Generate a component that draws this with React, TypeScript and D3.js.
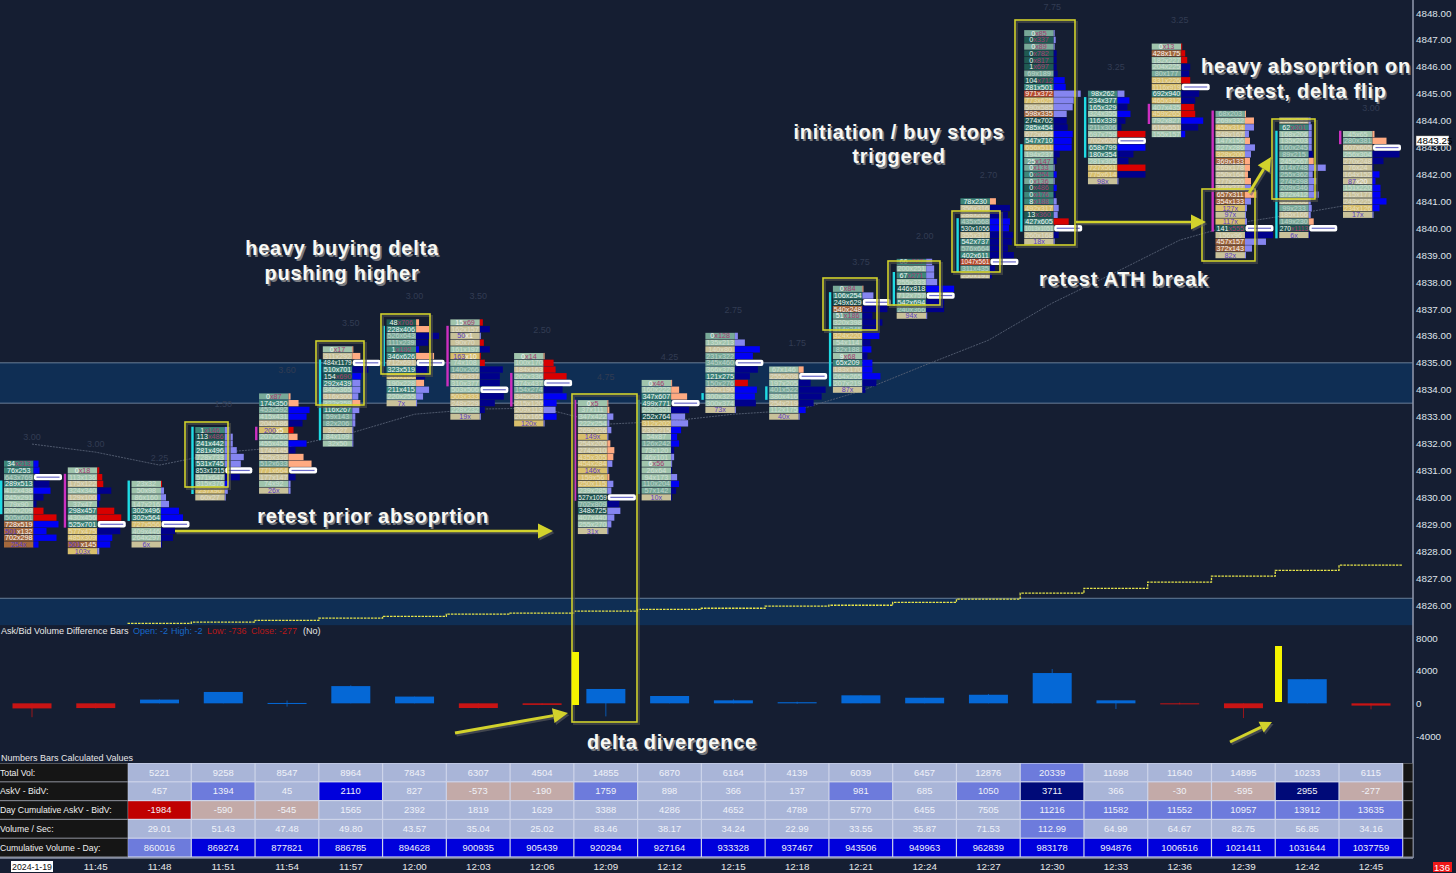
import React from "react";
import * as d3 from "d3";

const W = 1456, H = 873;
const BG = "#151e32";
const FONT = "'Liberation Sans', Arial, sans-serif";

const priceTicks = d3.range(4826, 4849);
const currentPrice = 4843.25;
const deltaTicks = [8000, 4000, 0, -4000];
const timeLabels = ["11:45","11:48","11:51","11:54","11:57","12:00","12:03","12:06","12:09","12:12","12:15","12:18","12:21","12:24","12:27","12:30","12:33","12:36","12:39","12:42","12:45"];

const fpTops = [4831.25,4831,4830.5,4832.5,4833.75,4835.5,4836.5,4836.5,4835.25,4833.5,4834.25,4836,4834.75,4837.75,4838.75,4841,4847.25,4845,4846.75,4844.25,4844,4843.5];
const fpSpreads = ["3.00","3.00","2.25","1.50","3.60","3.50","3.00","3.50","2.50","4.75","4.25","2.75","1.75","3.75","2.00","2.70","7.75","3.25","3.25","3.25","3.00","3.00"];

const fpCells: string[][] = [
  ["34x213","76x253","643x769","289x513","412x438","245x291","79x90","200x209","505x601","728x519","501x132","702x298","254x0"],
  ["0x18","113x136","175x122","324x340","129x100","37x47","298x457","430x456","525x701","577x475","485x309","501x145","103x0"],
  ["23x32","50x98","86x160","147x216","302x496","302x564","727x556","409x446","264x297","6x0"],
  ["1x146","113x486","241x442","281x496","728x733","531x745","853x1215","571x647","315x376","237x90","60x27"],
  ["0x87","174x350","453x592","415x431","204x186","200x5","207x260","455x458","174x145","425x336","512x633","771x664","177x147","74x92","26x0"],
  ["0x17","311x292","484x1179","510x701","154x690","292x439","345x365","316x300","322x359","116x267","59x143","82x206","32x27","84x109","32x50"],
  ["48x706","228x406","526x643","111x239","1x192","346x626","712x691","323x519","300x180","190x228","211x415","220x255","7x0"],
  ["15x69","162x157","50x1","90x70","161x197","163x10","74x108","140x266","376x337","310x377","503x506","503x333","248x229","228x232","19x0"],
  ["0x14","100x170","184x163","262x336","374x437","154x274","345x281","215x120","209x113","201x165","120x0"],
  ["0x5","37x111","347x422","222x254","269x226","149x0","254x200","274x210","435x305","454x284","146x0","159x56","250x115","239x285","527x1059","702x809","348x725","407x440","255x270","31x0"],
  ["0x46","160x222","347x607","499x771","292x351","252x764","312x202","233x215","54x87","126x242","73x120","46x101","6x56","26x64","94x173","110x204","57x142","10x0"],
  ["0x128","135x213","140x80","231x322","345x460","366x379","121x275","150x276","200x190","300x323","300x374","73x0"],
  ["67x146","255x209","197x205","401x522","380x416","254x219","112x175","40x0"],
  ["0x84","106x254","249x629","540x248","51x186","320x398","114x245","324x220","54x114","82x188","9x68","65x209","183x170","264x265","207x219","87x0"],
  ["66x267","200x251","67x271","255x333","446x818","712x757","542x694","240x366","94x0"],
  ["78x230","356x316","288x266","435x568","530x1056","355x317","542x737","576x664","402x611","1047x561","311x435","250x191"],
  ["0x85","0x337","0x89","0x782","0x817","1x697","69x189","104x712","281x501","971x372","773x625","590x585","598x335","274x702","285x454","672x654","547x710","656x511","194x237","25x147","0x133","0x254","0x136","0x486","0x176","8x188","492x317","13x360","427x605","1013x1051","260x168","18x0"],
  ["98x262","234x377","165x329","324x355","116x339","211x306","697x759","702x626","658x799","180x354","281x305","727x561","775x614","98x0"],
  ["0x13","428x175","182x227","204x225","80x177","331x226","1116x919","692x940","465x312","407x435","459x265","792x827","616x551","155x157"],
  ["68x203","269x332","455x314","248x167","147x156","227x286","328x200","369x133","269x178","250x164","277x220","344x277","657x311","354x133","127x0","97x0","117x0","141x555","156x96","457x157","372x143","82x0"],
  ["285x283","62x301","168x206","135x203","160x245","89x215","245x267","614x748","255x362","274x398","209x346","372x412","305x300","99x233","185x166","149x230","270x1113","6x0"],
  ["45x65","280x381","607x605","256x304","270x248","76x24","164x152","87x20","151x220","215x177","243x225","234x126","17x0"],
];
const fpProfile: number[][] = [
  [5,6,28,16,17,10,3,10,23,25,13,23,5],
  [2,5,6,14,3,2,17,24,28,23,15,13,2],
  [1,3,5,8,18,22,28,14,12,1],
  [5,8,8,12,19,16,27,15,5,3,1],
  [2,10,21,18,14,5,9,18,7,15,23,28,7,2,2],
  [1,8,28,16,9,8,8,6,8,7,3,3,1,1,1],
  [3,13,23,12,3,18,28,11,9,8,13,7,1],
  [3,10,1,4,10,1,5,23,20,20,28,24,15,5,1],
  [1,10,12,23,28,19,23,13,12,13,1],
  [1,2,6,2,4,1,3,7,6,5,1,2,6,4,28,12,13,7,4,1],
  [1,8,16,28,18,14,17,10,6,8,3,3,1,1,6,8,5,1],
  [3,10,25,18,28,23,15,13,22,20,21,1],
  [5,28,12,27,23,15,7,1],
  [1,11,28,25,10,20,15,17,8,9,5,10,10,18,14,3],
  [6,8,8,11,28,28,18,18,1],
  [6,20,18,20,19,23,22,18,24,28,5,2],
  [1,2,1,3,3,3,4,11,12,27,20,19,13,13,14,19,18,18,6,3,1,3,1,3,2,3,5,4,15,28,5,1],
  [7,12,10,13,8,4,28,28,28,16,11,28,28,1],
  [1,4,6,9,8,9,28,18,14,13,14,22,17,4],
  [1,9,9,4,5,10,6,5,5,3,6,6,12,6,2,1,2,28,28,21,7,1],
  [2,3,3,3,3,4,5,17,4,8,5,10,2,3,2,5,28,1],
  [2,14,28,27,11,1,7,3,8,8,14,7,1],
];
const fpKinds = [
  "BBWNBNNRRBBBB","RRRNBNRRWNBBL","RLLLBBWNNN","LLLLLLWNBLL","SSBBNRSBNSSWNLL","SSWNBLLLSLLLLLL","SSNNBSWNNSLLL",
  "RNLRNRRNNNWNNNL","SRRRWNBBLBL","SSLLLLSSSLLSLLWNLLLL","SSSWNLLBBBNLLNLBNN","LLBBWNNRBBNL","SWNNNNBL","SLWNNNNBNBNBBBNN",
  "LLLLBWNNL","SNNBBNNNNWNN","LLLNNNNBBLLLLNNBBBNNLBLBNLLLRWNL","LBNBNNRWBNNRNL","RRRNNRWNNRRBNB",
  "SSLLSLLSSSSLSLLLLWNLLL","LLLLLNSLLLLLLLLSWN","SSWNNNBBBBBBL",
];
const fpStacks: [number, number, "cyan" | "magenta"][][] = [
  [[3,7,"cyan"]],[[1,8,"magenta"]],[[0,5,"cyan"]],[[0,9,"cyan"]],[[5,6,"magenta"]],[[2,13,"cyan"]],[[1,6,"cyan"]],[[1,9,"magenta"]],[[3,7,"magenta"]],[[0,14,"magenta"]],
  [[3,16,"cyan"]],[[9,9,"cyan"]],[[3,4,"cyan"]],[[1,14,"cyan"]],[[2,6,"cyan"]],[[3,10,"cyan"]],[[17,29,"cyan"]],[[1,9,"cyan"]],[[9,11,"magenta"]],[[0,17,"magenta"]],[[2,17,"cyan"]],[[0,1,"magenta"]],
];

const vwapLine = [4831.98,4831.68,4831.2,4831.68,4831.87,4832.39,4833.09,4833.28,4833.32,4832.72,4832.83,4833.09,4833.24,4833.95,4834.91,4835.84,4837.22,4838.37,4839.56,4840.23,4840.6,4841.01];
const stepLine = [4825.32,4825.36,4825.43,4825.51,4825.58,4825.66,4825.7,4825.77,4825.84,4825.88,4825.96,4825.99,4826.1,4826.22,4826.44,4826.62,4826.85,4827.07,4827.29,4827.48];

const deltaClose = [-620,-580,457,1394,45,2110,827,-573,-190,1759,898,366,137,981,685,1050,3711,366,-30,-595,2955,-277];
const deltaHigh = [0,0,470,1394,350,2200,827,0,0,1759,898,500,200,981,685,1150,4200,366,100,0,2955,0];
const deltaLow = [-1700,-620,0,0,-400,0,0,-620,-200,-1600,0,0,-60,0,0,0,0,-700,-120,-1800,0,-736];

const totalVol = [5221,9258,8547,8964,7843,6307,4504,14855,6870,6164,4139,6039,6457,12876,20339,11698,11640,14895,10233,6115];
const askBidDiff = [457,1394,45,2110,827,-573,-190,1759,898,366,137,981,685,1050,3711,366,-30,-595,2955,-277];
const dayCumDiff = [-1984,-590,-545,1565,2392,1819,1629,3388,4286,4652,4789,5770,6455,7505,11216,11582,11552,10957,13912,13635];
const volPerSec = ["29.01","51.43","47.48","49.80","43.57","35.04","25.02","83.46","38.17","34.24","22.99","33.55","35.87","71.53","112.99","64.99","64.67","82.75","56.85","34.16"];
const cumVolume = [860016,869274,877821,886785,894628,900935,905439,920294,927164,933328,937467,943506,949963,962839,983178,994876,1006516,1021411,1031644,1037759];
const tableLabels = ["Total Vol:","AskV - BidV:","Day Cumulative AskV - BidV:","Volume / Sec:","Cumulative Volume - Day:"];
const tableRows: (string | number)[][] = [totalVol, askBidDiff, dayCumDiff, volPerSec, cumVolume];

const RED = "#c00000", PINK = "#c3aaa8", LIGHT = "#a9b5d8", MED = "#6d7bdc", BLUE = "#0000dc", NAVY = "#000a78";
const tableScales = [
  d3.scaleThreshold<number, string>().domain([15000]).range([LIGHT, MED]),
  d3.scaleThreshold<number, string>().domain([-1000, 0, 900, 2000, 2500]).range([RED, PINK, LIGHT, MED, BLUE, NAVY]),
  d3.scaleThreshold<number, string>().domain([-1000, 0, 10000]).range([RED, PINK, LIGHT, MED]),
  d3.scaleThreshold<number, string>().domain([100]).range([LIGHT, MED]),
  d3.scaleThreshold<number, string>().domain([865000]).range([MED, BLUE]),
];

const xBar = d3.scaleLinear().domain([0, 21]).range([32, 1371]);
const BAR_STEP = xBar(1) - xBar(0);
const yPrice = d3.scaleLinear().domain([4848, 4826]).range([13, 605]);
const ROW = yPrice(4847.75) - yPrice(4848);
const yDelta = d3.scaleLinear().domain([8000, -4000]).range([638, 736]);
const xProfile = d3.scaleLinear().domain([0, 28]).range([0, 28]);
const yRow = d3.scaleBand<number>().domain(d3.range(5)).range([763, 857]);

const cellColor = d3.scaleThreshold<number, string>()
  .domain([-300, -140, -80, 0, 100, 200, 450])
  .range(["#1f5a52", "#3d877a", "#78a998", "#a0c4ac", "#c9c29a", "#d8bf6c", "#a4683c", "#b84a2c"]);
const textOpacity = d3.scaleThreshold<number, number>()
  .domain([-140, 200])
  .range([1, 0.55, 1]);
const profileColor = d3.scaleOrdinal<string, string>()
  .domain(["B", "N", "L", "S", "R"])
  .range(["#0000f5", "#00008c", "#8585f0", "#ffab82", "#d80000"]);
const stackColor = { cyan: "#1fdbe4", magenta: "#cc2fc0" };

function Footprint({ i }: { i: number }) {
  const left = xBar(i) - 28;
  const cw = 29.5;
  const top = fpTops[i];
  const cells = fpCells[i];
  return (
    <g>
      <text x={xBar(i)} y={yPrice(top) - ROW / 2 - 20} fontSize={9} textAnchor="middle" fill="#323c52" fontFamily={FONT}>{fpSpreads[i]}</text>
      {fpStacks[i].map(([a, b, c], k) => (
        <rect key={k} x={left - 4} width={2.4} y={yPrice(top - a * 0.25) - ROW / 2} height={(b - a + 1) * ROW} fill={stackColor[c]} />
      ))}
      {cells.map((label, r) => {
        const [ask, bid] = label.split("x").map(Number);
        const y0 = yPrice(top - r * 0.25) - ROW / 2;
        const kind = fpKinds[i][r] || "L";
        const len = xProfile(fpProfile[i][r] || 0);
        const lowAsk = bid > 0 && ask < bid * 0.3;
        const lowBid = ask > 0 && bid < ask * 0.3;
        return (
          <g key={r}>
            <rect x={left} y={y0 + 0.3} width={cw} height={ROW - 0.6} fill={cellColor(ask - bid)} />
            {kind === "W" ? (
              <g>
                <rect x={left + cw + 0.5} y={y0 + 0.2} width={len} height={ROW - 0.4} rx={2} fill="#fff" />
                <rect x={left + cw + 3} y={y0 + ROW / 2 - 0.6} width={len - 5} height={1.2} fill="#6a6ac8" />
              </g>
            ) : (
              <rect x={left + cw} y={y0 + 0.2} width={len} height={ROW - 0.4} fill={profileColor(kind)} />
            )}
            <text x={left + cw / 2} y={y0 + ROW - 0.8} fontSize={7.2} textAnchor="middle" fontFamily={FONT}
              opacity={lowBid || lowAsk ? 1 : textOpacity(ask - bid)}
              textLength={label.length > 7 ? cw - 1 : undefined} lengthAdjust="spacingAndGlyphs">
              <tspan fill={lowBid ? "#5a3fc4" : "#f4f4f4"}>{bid === 0 ? `${ask}x` : `${ask}`}</tspan>
              {bid !== 0 && <tspan fill={lowAsk ? "#a83a72" : "#f4f4f4"}>{`x${bid}`}</tspan>}
            </text>
          </g>
        );
      })}
    </g>
  );
}

const YEL = "#d2d22c";
function Box({ x0, y0, x1, y1 }: { x0: number; y0: number; x1: number; y1: number }) {
  return (
    <g fill="none">
      <rect x={x0 + 2} y={y0 + 2} width={x1 - x0} height={y1 - y0} stroke="#4a4c48" strokeWidth={2} opacity={0.7} />
      <rect x={x0} y={y0} width={x1 - x0} height={y1 - y0} stroke={YEL} strokeWidth={1.6} />
    </g>
  );
}
function Arrow({ x0, y0, x1, y1, w = 2.6, head = 15 }: { x0: number; y0: number; x1: number; y1: number; w?: number; head?: number }) {
  const a = Math.atan2(y1 - y0, x1 - x0);
  const bx = x1 - head * Math.cos(a), by = y1 - head * Math.sin(a);
  const hw = head * 0.5;
  const pts = [[x1, y1], [bx - hw * Math.sin(a), by + hw * Math.cos(a)], [bx + hw * Math.sin(a), by - hw * Math.cos(a)]].map((p) => p.join(",")).join(" ");
  return (
    <g>
      <g transform="translate(1.5,2)" opacity={0.55}>
        <line x1={x0} y1={y0} x2={bx} y2={by} stroke="#666" strokeWidth={w} />
        <polygon points={pts} fill="#666" />
      </g>
      <line x1={x0} y1={y0} x2={bx} y2={by} stroke={YEL} strokeWidth={w} />
      <polygon points={pts} fill={YEL} />
    </g>
  );
}
function Note({ x, y, children }: { x: number; y: number; children: string }) {
  const common = { textAnchor: "middle" as const, fontSize: 20, fontWeight: 700, fontFamily: FONT, letterSpacing: 0.75 };
  return (
    <g>
      <text x={x + 1.6} y={y + 1.8} fill="#777a80" {...common}>{children}</text>
      <text x={x} y={y} fill="#f8f8f4" {...common}>{children}</text>
    </g>
  );
}

export default function App() {
  const vwap = d3.line<number>().x((_, i) => xBar(i)).y((d) => yPrice(d)).curve(d3.curveLinear)(vwapLine) || "";
  const steps = d3.line<number>().x((_, i) => xBar(i + 2) - 32).y((d) => yPrice(d)).curve(d3.curveStepAfter)([...stepLine, stepLine[stepLine.length - 1]]) || "";
  const axisX = 1413;
  return (
    <svg width={W} height={H} viewBox={`0 0 ${W} ${H}`} style={{ position: "absolute", left: 0, top: 0, background: BG }}>
      <rect x={0} y={yPrice(4835)} width={axisX} height={yPrice(4833.5) - yPrice(4835)} fill="#0f2e54" />
      <rect x={0} y={yPrice(4826.25)} width={axisX} height={yPrice(4825.25) - yPrice(4826.25)} fill="#0f2e54" />
      {[4835, 4833.5, 4826.25].map((p) => (
        <line key={p} x1={0} x2={axisX} y1={yPrice(p)} y2={yPrice(p)} stroke="#7f94ad" strokeWidth={0.8} />
      ))}
      <path d={vwap} fill="none" stroke="#566074" strokeWidth={0.9} strokeDasharray="2 1" />
      <path d={steps} fill="none" stroke="#e4e24a" strokeWidth={1.3} strokeDasharray="2.5 1" />

      {fpTops.map((_, i) => <Footprint key={i} i={i} />)}

      <line x1={axisX} x2={axisX} y1={0} y2={858} stroke="#8b93a8" strokeWidth={1.6} />
      {priceTicks.map((p) => (
        <text key={p} x={1416} y={yPrice(p) + 3.5} fontSize={9.8} fill="#dfe3ea" fontFamily={FONT}>{p.toFixed(2)}</text>
      ))}
      <rect x={1416} y={yPrice(currentPrice) - 5} width={33} height={10} fill="#fff" stroke="#333" strokeWidth={0.5} />
      <text x={1417} y={yPrice(currentPrice) + 3.5} fontSize={9.8} fill="#000" fontFamily={FONT}>{currentPrice.toFixed(2)}</text>

      <text x={1} y={634} fontSize={9} fontFamily={FONT} fill="#e8e8e8">Ask/Bid Volume Difference Bars</text>
      <text x={133} y={634} fontSize={9} fontFamily={FONT} fill="#1668c8">Open: -2</text>
      <text x={171} y={634} fontSize={9} fontFamily={FONT} fill="#1668c8">High: -2</text>
      <text x={207} y={634} fontSize={9} fontFamily={FONT} fill="#b81818">Low: -736</text>
      <text x={251} y={634} fontSize={9} fontFamily={FONT} fill="#b81818">Close: -277</text>
      <text x={303} y={634} fontSize={9} fontFamily={FONT} fill="#e8e8e8">(No)</text>
      {deltaTicks.map((t) => (
        <text key={t} x={1416} y={yDelta(t) + 3.5} fontSize={9.8} fill="#dfe3ea" fontFamily={FONT}>{t}</text>
      ))}
      {deltaClose.map((c, i) => {
        const col = c >= 0 ? "#0568d6" : "#c81414";
        const top = yDelta(Math.max(c, 0));
        const bot = yDelta(Math.min(c, 0));
        return (
          <g key={i}>
            <line x1={xBar(i)} x2={xBar(i)} y1={yDelta(deltaHigh[i])} y2={yDelta(deltaLow[i])} stroke={col} strokeWidth={1} opacity={0.75} />
            <rect x={xBar(i) - 19.5} y={top} width={39} height={Math.max(bot - top, 1)} fill={col} />
          </g>
        );
      })}

      <text x={1} y={761} fontSize={9} fontFamily={FONT} fill="#e8e8e8">Numbers Bars Calculated Values</text>
      <rect x={0} y={763} width={1413} height={95} fill="#7c7f88" />
      <rect x={128} y={763} width={1275} height={95} fill="#cdd4ea" />
      {tableLabels.map((label, r) => (
        <g key={label}>
          <rect x={0} y={yRow(r)! + 0.6} width={127.5} height={yRow.bandwidth() - 1.2} fill="#151515" />
          <rect x={1403.5} y={yRow(r)! + 0.6} width={9} height={yRow.bandwidth() - 1.2} fill="#151515" />
          <text x={0} y={yRow(r)! + 12.5} fontSize={8.7} fontFamily={FONT} fill="#f0f0f0">{label}</text>
          {tableRows[r].map((v, c) => {
            const x0 = xBar(c + 2) - 32;
            return (
              <g key={c}>
                <rect x={x0 + 0.6} y={yRow(r)! + 0.6} width={BAR_STEP - 1.2} height={yRow.bandwidth() - 1.2} fill={tableScales[r](Number(v))} />
                <text x={x0 + BAR_STEP / 2} y={yRow(r)! + 12.5} fontSize={9.4} textAnchor="middle" fontFamily={FONT} fill="#f0f2f8">{String(v)}</text>
              </g>
            );
          })}
        </g>
      ))}
      <line x1={0} x2={axisX} y1={858} y2={858} stroke="#8b93a8" strokeWidth={1.4} />

      {timeLabels.map((t, i) => (
        <text key={t} x={xBar(i + 1)} y={870} fontSize={9.8} textAnchor="middle" fontFamily={FONT} fill="#e8e8e8">{t}</text>
      ))}
      <rect x={11} y={861} width={42} height={11} fill="#fff" />
      <text x={12} y={870} fontSize={9.6} fontFamily={FONT} fill="#111" textLength={40} lengthAdjust="spacingAndGlyphs">2024-1-19</text>
      <rect x={1433} y={862} width={19} height={10} fill="#f01818" />
      <text x={1434} y={870.5} fontSize={9.6} fontFamily={FONT} fill="#fff">136</text>

      <Box x0={185} y0={422} x1={228} y1={487} />
      <Box x0={316} y0={341} x1={364} y1={405} />
      <Box x0={381} y0={314} x1={430} y1={374} />
      <Box x0={572} y0={394} x1={637} y1={722} />
      <Box x0={823} y0={278} x1={877} y1={330} />
      <Box x0={888} y0={261} x1={940} y1={305} />
      <Box x0={952} y0={211} x1={1000} y1={272} />
      <Box x0={1015} y0={20} x1={1075} y1={245} />
      <Box x0={1202} y0={189} x1={1255} y1={261} />
      <Box x0={1272} y0={119} x1={1315} y1={199} />
      <rect x={572} y={652} width={7} height={53} fill="#f4f400" />
      <rect x={1275} y={646} width={7} height={56} fill="#f4f400" />
      <Arrow x0={175} y0={531} x1={553} y1={531} />
      <Arrow x0={1076} y0={222} x1={1206} y1={222} />
      <Arrow x0={455} y0={733} x1={568} y1={713} w={3} />
      <Arrow x0={1230} y0={742} x1={1272} y1={722} w={3} head={12} />
      <Arrow x0={1249} y0={193} x1={1271} y1={157} w={3} head={14} />
      <Note x={342} y={255}>heavy buying delta</Note>
      <Note x={342} y={280}>pushing higher</Note>
      <Note x={373} y={523}>retest prior absoprtion</Note>
      <Note x={672} y={749}>delta divergence</Note>
      <Note x={899} y={139}>initiation / buy stops</Note>
      <Note x={899} y={163}>triggered</Note>
      <Note x={1124} y={286}>retest ATH break</Note>
      <Note x={1306} y={73}>heavy absoprtion on</Note>
      <Note x={1306} y={98}>retest, delta flip</Note>
    </svg>
  );
}
